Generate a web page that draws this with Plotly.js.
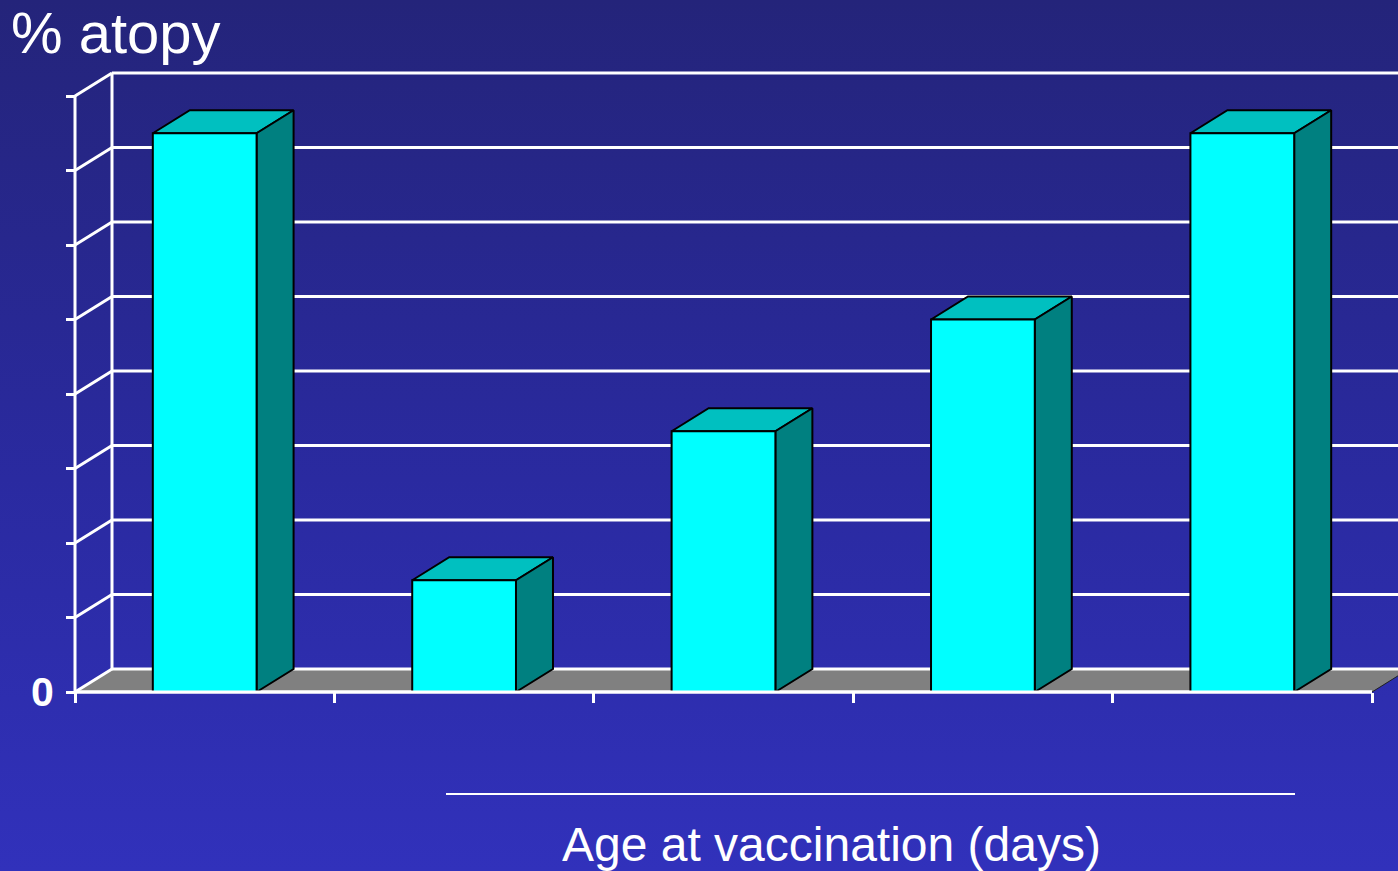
<!DOCTYPE html>
<html>
<head>
<meta charset="utf-8">
<script src="https://cdn.plot.ly/plotly-3.0.1.min.js"></script>
<style>
  html, body { margin: 0; padding: 0; }
  body { width: 1398px; height: 871px; overflow: hidden;
         background: linear-gradient(to bottom, #24247a 0%, #2a2aa0 55%, #3131bb 100%); }
  #chart { width: 1398px; height: 871px; }
</style>
</head>
<body>
<div id="chart"></div>
<script>
// ---- data ----
const categories = ['Group 1', 'Group 2', 'Group 3', 'Group 4', 'Group 5'];
const atopyValues = [7.5, 1.5, 3.5, 5.0, 7.5];
const gridValues = [0, 1, 2, 3, 4, 5, 6, 7, 8];
const yTickText = ['0', '', '', '', '', '', '', '', ''];
const categoryEdges = [0, 1, 2, 3, 4, 5];
const chartTitle = '% atopy';
const xAxisLabel = 'Age at vaccination (days)';

// ---- layout / style ----
const W = 1398, H = 871;
const FONT = 'Liberation Sans, Arial, Helvetica, sans-serif';
const PLOT = { left: 66, right: 1398, top: 60, bottom: 705 };
const ORIGIN = { x: 75, y: 692 };      // pixel of (0,0) on the front plane
const PX_X = 259.4, PX_Y = 74.5;        // pixels per data unit
const DX = 37 / PX_X, DY = 23 / PX_Y;   // 3D depth offset in data units
const HALF_W = 0.2;                     // half width of bar front face

const xRange = [(PLOT.left - ORIGIN.x) / PX_X, (PLOT.right - ORIGIN.x) / PX_X];
const yRange = [(ORIGIN.y - PLOT.bottom) / PX_Y, (ORIGIN.y - PLOT.top) / PX_Y];
const nCat = categories.length;
const yMax = gridValues[gridValues.length - 1];

const paperX = px => (px - PLOT.left) / (PLOT.right - PLOT.left);
const paperY = py => (PLOT.bottom - py) / (PLOT.bottom - PLOT.top);

const traces = [];
function poly(xs, ys, fill, lineColor, lineWidth) {
  traces.push({ type: 'scatter', mode: 'lines', x: xs, y: ys, fill: 'toself',
    fillcolor: fill, line: { color: lineColor, width: lineWidth },
    hoverinfo: 'skip', showlegend: false });
}
function lines(xs, ys, color, width) {
  traces.push({ type: 'scatter', mode: 'lines', x: xs, y: ys,
    line: { color: color, width: width }, connectgaps: false,
    hoverinfo: 'skip', showlegend: false });
}

// floor
poly([0, nCat, nCat + DX, DX, 0], [0, 0, DY, DY, 0], '#808080', 'rgba(0,0,0,0)', 0);
lines([nCat, nCat + DX], [0, DY], '#202020', 1);

// back wall gridlines, left wall diagonals
const gx = [], gy = [];
gridValues.forEach(v => {
  gx.push(DX, xRange[1] + 1, null); gy.push(v + DY, v + DY, null);
  gx.push(0, DX, null); gy.push(v, v + DY, null);
});
// left wall back vertical and front vertical
gx.push(DX, DX, null); gy.push(DY, yMax + DY, null);
gx.push(0, 0, null); gy.push(0, yMax, null);
// front floor edge
gx.push(0, nCat, null); gy.push(0, 0, null);
lines(gx, gy, '#ffffff', 3);

// bars
atopyValues.forEach((v, i) => {
  const c = i + 0.5;
  const x0 = c - HALF_W, x1 = c + HALF_W;
  // top
  poly([x0, x1, x1 + DX, x0 + DX, x0], [v, v, v + DY, v + DY, v], '#00c0c0', '#000000', 2);
  // side
  poly([x1, x1 + DX, x1 + DX, x1, x1], [0, DY, v + DY, v, 0], '#008080', '#000000', 2);
  // front
  poly([x0, x1, x1, x0, x0], [0, 0, v, v, 0], '#00ffff', '#000000', 2);
});
// redraw front floor edge over bar outlines
lines([0, nCat], [0, 0], '#ffffff', 3);

const layout = {
  width: W, height: H,
  paper_bgcolor: 'rgba(0,0,0,0)', plot_bgcolor: 'rgba(0,0,0,0)',
  margin: { l: PLOT.left, r: W - PLOT.right, t: PLOT.top, b: H - PLOT.bottom, pad: 0 },
  showlegend: false,
  font: { family: FONT, color: '#ffffff' },
  title: { text: chartTitle, xref: 'container', yref: 'container',
    x: 11 / W, xanchor: 'left', y: 1 - 33 / H, yanchor: 'middle',
    font: { family: FONT, size: 58, color: '#ffffff' } },
  xaxis: { range: xRange, domain: [0, 1], anchor: 'free', position: paperY(ORIGIN.y),
    showgrid: false, zeroline: false, showline: false,
    tickmode: 'array', tickvals: categoryEdges, ticks: 'outside', ticklen: 10,
    tickwidth: 3, tickcolor: '#ffffff', showticklabels: false, fixedrange: true },
  yaxis: { range: yRange, domain: [0, 1], anchor: 'free', position: paperX(ORIGIN.x),
    showgrid: false, zeroline: false, showline: false,
    tickmode: 'array', tickvals: gridValues, ticktext: yTickText,
    ticks: 'outside', ticklen: 9, tickwidth: 3, tickcolor: '#ffffff',
    tickfont: { family: FONT, size: 41, color: '#ffffff', weight: 'bold' },
    ticklabelstandoff: 4, fixedrange: true },
  shapes: [
    { type: 'line', xref: 'paper', yref: 'paper', x0: paperX(446), x1: paperX(1295),
      y0: paperY(794), y1: paperY(794), line: { color: '#ffffff', width: 2 } }
  ],
  annotations: [
    { text: xAxisLabel, xref: 'paper', yref: 'paper', x: paperX(831.5), y: paperY(844),
      xanchor: 'center', yanchor: 'middle', showarrow: false,
      font: { family: FONT, size: 48, color: '#ffffff' } }
  ]
};

Plotly.newPlot('chart', traces, layout, { displayModeBar: false, staticPlot: true });
</script>
</body>
</html>
